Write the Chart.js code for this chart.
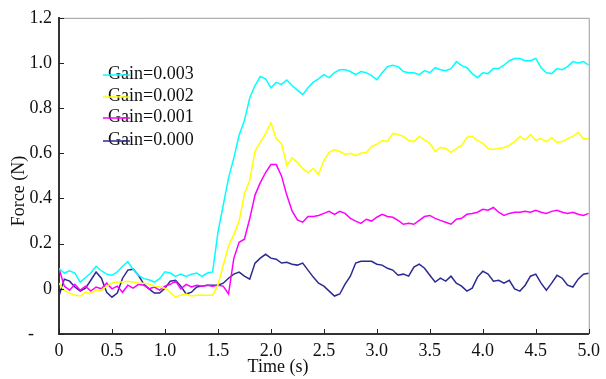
<!DOCTYPE html>
<html>
<head>
<meta charset="utf-8">
<script src="https://cdn.jsdelivr.net/npm/chart.js"></script>
<style>
    html, body { margin: 0; padding: 0; background: #fff; }
    canvas { display: block; }
</style>
</head>
<body>
<canvas id="forceChart" width="606" height="379"></canvas>
<script>
const times = [
    0.00, 0.05, 0.10, 0.15, 0.20, 0.25, 0.30, 0.35, 0.40, 0.45,
    0.50, 0.55, 0.60, 0.65, 0.70, 0.75, 0.80, 0.85, 0.90, 0.95,
    1.00, 1.05, 1.10, 1.15, 1.20, 1.25, 1.30, 1.35, 1.40, 1.45,
    1.50, 1.55, 1.60, 1.65, 1.70, 1.75, 1.80, 1.85, 1.90, 1.95,
    2.00, 2.05, 2.10, 2.15, 2.20, 2.25, 2.30, 2.35, 2.40, 2.45,
    2.50, 2.55, 2.60, 2.65, 2.70, 2.75, 2.80, 2.85, 2.90, 2.95,
    3.00, 3.05, 3.10, 3.15, 3.20, 3.25, 3.30, 3.35, 3.40, 3.45,
    3.50, 3.55, 3.60, 3.65, 3.70, 3.75, 3.80, 3.85, 3.90, 3.95,
    4.00, 4.05, 4.10, 4.15, 4.20, 4.25, 4.30, 4.35, 4.40, 4.45,
    4.50, 4.55, 4.60, 4.65, 4.70, 4.75, 4.80, 4.85, 4.90, 4.95,
    5.00
];

const gain003 = [
    0.09, 0.07, 0.08, 0.07, 0.03, 0.05, 0.07, 0.10, 0.08, 0.065,
    0.06, 0.075, 0.10, 0.12, 0.085, 0.06, 0.045, 0.04, 0.03, 0.045,
    0.075, 0.07, 0.055, 0.065, 0.055, 0.065, 0.07, 0.055, 0.07, 0.075,
    0.25, 0.37, 0.49, 0.58, 0.68, 0.745, 0.845, 0.90, 0.94, 0.93,
    0.89, 0.914, 0.905, 0.925, 0.90, 0.88, 0.86, 0.89, 0.915, 0.93,
    0.948, 0.935, 0.957, 0.97, 0.97, 0.962, 0.948, 0.962, 0.957, 0.944,
    0.926, 0.957, 0.984, 0.99, 0.984, 0.962, 0.957, 0.957, 0.948, 0.966,
    0.957, 0.979, 0.97, 0.966, 0.975, 1.006, 0.988, 0.979, 0.953, 0.935,
    0.957, 0.953, 0.975, 0.975, 0.99, 1.01, 1.02, 1.02, 1.01, 1.01,
    1.02, 0.979, 0.957, 0.953, 0.975, 0.97, 0.984, 1.006, 1.0, 1.006,
    0.99
];

const gain002 = [
    0.025, -0.006, -0.019, -0.028, -0.032, -0.015, -0.019, -0.006, -0.006, 0.012,
    0.025, 0.03, 0.03, 0.034, 0.03, 0.025, 0.025, 0.021, 0.012, 0.008,
    0.003, -0.015, -0.037, -0.028, -0.023, -0.032, -0.028, -0.028, -0.028, -0.028,
    0.016, 0.105, 0.19, 0.24, 0.30, 0.42, 0.48, 0.61, 0.648, 0.687,
    0.735, 0.665, 0.643, 0.546, 0.58, 0.56, 0.533, 0.515, 0.533, 0.507,
    0.568, 0.604, 0.617, 0.608, 0.595, 0.60, 0.59, 0.60, 0.604, 0.63,
    0.64, 0.657, 0.652, 0.688, 0.683, 0.675, 0.657, 0.652, 0.675, 0.66,
    0.644, 0.608, 0.626, 0.621, 0.604, 0.621, 0.635, 0.67, 0.675, 0.657,
    0.644, 0.621, 0.617, 0.621, 0.626, 0.635, 0.652, 0.675, 0.66, 0.683,
    0.657, 0.665, 0.652, 0.67, 0.648, 0.652, 0.665, 0.675, 0.692, 0.665,
    0.665
];

const gain001 = [
    0.09, 0.012, -0.006, 0.02, -0.006, 0.012, -0.01, 0.008, 0.0, 0.025,
    0.0, 0.012, -0.015, 0.016, 0.003, 0.02, 0.016, 0.0, 0.008, -0.006,
    0.012, 0.02, 0.034, 0.0, 0.02, 0.008, 0.016, 0.012, 0.016, 0.012,
    0.016, 0.012, -0.023, 0.135, 0.206, 0.22, 0.31, 0.415, 0.47, 0.515,
    0.55, 0.55, 0.50, 0.415, 0.345, 0.305, 0.295, 0.32, 0.32, 0.325,
    0.334, 0.343, 0.33, 0.343, 0.334, 0.312, 0.30, 0.29, 0.308, 0.30,
    0.317, 0.33, 0.32, 0.317, 0.303, 0.286, 0.29, 0.286, 0.303, 0.32,
    0.325, 0.312, 0.303, 0.295, 0.286, 0.308, 0.312, 0.33, 0.334, 0.339,
    0.352, 0.348, 0.36, 0.339, 0.325, 0.334, 0.339, 0.339, 0.343, 0.339,
    0.348, 0.339, 0.334, 0.343, 0.348, 0.339, 0.334, 0.339, 0.33, 0.325,
    0.334
];

const gain000 = [
    -0.032, 0.043, 0.034, 0.008, -0.01, 0.003, 0.038, 0.074, 0.047, -0.015,
    -0.037, -0.019, 0.047, 0.083, 0.087, 0.06, 0.021, 0.0, -0.019, -0.019,
    0.003, 0.034, 0.038, 0.012, -0.023, -0.015, 0.008, 0.012, 0.016, 0.016,
    0.016, 0.025, 0.047, 0.065, 0.074, 0.056, 0.043, 0.114, 0.136, 0.153,
    0.136, 0.131, 0.114, 0.118, 0.109, 0.105, 0.114, 0.083, 0.052, 0.025,
    0.012, -0.01, -0.032, -0.023, 0.021, 0.056, 0.114, 0.122, 0.122, 0.122,
    0.109, 0.105, 0.091, 0.083, 0.06, 0.065, 0.056, 0.096, 0.109, 0.091,
    0.06, 0.03, 0.047, 0.034, 0.056, 0.025, 0.012, -0.01, 0.003, 0.052,
    0.078, 0.065, 0.034, 0.038, 0.025, 0.038, 0.0, -0.01, 0.016, 0.056,
    0.065, 0.025, -0.006, 0.025, 0.06, 0.047, 0.016, 0.008, 0.043, 0.065,
    0.069
];

const seriesLabels = ["Gain=0.003", "Gain=0.002", "Gain=0.001", "Gain=0.000"];
const seriesColors = ["#00ffff", "#ffff00", "#ff00ff", "#2a2a90"];
const seriesValues = [gain003, gain002, gain001, gain000];

const serif = "'Liberation Serif', 'DejaVu Serif', serif";

function toPoints(values) {
    return values.map((v, i) => ({ x: times[i], y: v }));
}

// frame, inner ticks, axis titles and legend drawn on top of the chart
const decorPlugin = {
    id: "decor",
    afterDraw(chart) {
        const ctx = chart.ctx;
        const area = chart.chartArea;
        const xScale = chart.scales.x;
        const yScale = chart.scales.y;

        ctx.save();

        ctx.strokeStyle = "#9a9a9a";
        ctx.lineWidth = 1;
        ctx.beginPath();
        ctx.moveTo(area.left, area.top + 0.5);
        ctx.lineTo(area.right + 0.5, area.top + 0.5);
        ctx.lineTo(area.right + 0.5, area.bottom);
        ctx.stroke();

        ctx.strokeStyle = "#222";
        ctx.beginPath();
        xScale.ticks.forEach((t) => {
            const px = Math.round(xScale.getPixelForValue(t.value)) + 0.5;
            ctx.moveTo(px, area.bottom);
            ctx.lineTo(px, area.bottom - 5);
        });
        yScale.ticks.forEach((t) => {
            const py = Math.round(yScale.getPixelForValue(t.value)) + 0.5;
            ctx.moveTo(area.left, py);
            ctx.lineTo(area.left + 5, py);
        });
        ctx.stroke();

        ctx.fillStyle = "#111";
        ctx.font = "18px " + serif;
        ctx.textAlign = "center";
        ctx.textBaseline = "middle";
        ctx.fillText("Time (s)", 278, 367);

        ctx.save();
        ctx.translate(19, 191);
        ctx.rotate(-Math.PI / 2);
        ctx.fillText("Force (N)", 0, 0);
        ctx.restore();

        const rowY = [74, 96, 117, 140];
        ctx.textAlign = "left";
        chart.data.datasets.forEach((ds, i) => {
            ctx.fillStyle = "#111";
            ctx.fillText(ds.label, 108, rowY[i]);
            ctx.strokeStyle = ds.borderColor;
            ctx.lineWidth = 1.5;
            ctx.beginPath();
            ctx.moveTo(103, rowY[i] + 1);
            ctx.lineTo(130, rowY[i] + 1);
            ctx.stroke();
        });

        ctx.restore();
    }
};

const ctx = document.getElementById("forceChart").getContext("2d");

new Chart(ctx, {
    type: "line",
    data: {
        datasets: seriesValues.map((values, i) => ({
            label: seriesLabels[i],
            data: toPoints(values),
            borderColor: seriesColors[i],
            backgroundColor: seriesColors[i],
            borderWidth: 1.5,
            pointRadius: 0,
            tension: 0,
            fill: false
        }))
    },
    options: {
        responsive: false,
        animation: false,
        events: [],
        layout: {
            padding: { top: 17, right: 5, left: 0, bottom: 0 }
        },
        plugins: {
            legend: { display: false },
            tooltip: { enabled: false }
        },
        scales: {
            x: {
                type: "linear",
                min: 0,
                max: 5,
                afterFit(scale) {
                    scale.height = 45;
                },
                ticks: {
                    stepSize: 0.5,
                    padding: 6,
                    color: "#111",
                    maxRotation: 0,
                    font: { family: serif, size: 18 },
                    callback(v) {
                        return v === 0 ? "0" : v.toFixed(1);
                    }
                },
                grid: { drawOnChartArea: false, drawTicks: false },
                border: { color: "#333", width: 2 }
            },
            y: {
                type: "linear",
                min: -0.2,
                max: 1.2,
                afterFit(scale) {
                    scale.width = 59;
                },
                ticks: {
                    stepSize: 0.2,
                    padding: 7,
                    color: "#111",
                    font: { family: serif, size: 18 },
                    callback(v) {
                        if (Math.abs(v) < 1e-9) {
                            return "0";
                        }
                        if (v < 0) {
                            return "-\u2007\u2007";
                        }
                        return v.toFixed(1);
                    }
                },
                grid: { drawOnChartArea: false, drawTicks: false },
                border: { color: "#333", width: 2 }
            }
        }
    },
    plugins: [decorPlugin]
});
</script>
</body>
</html>
